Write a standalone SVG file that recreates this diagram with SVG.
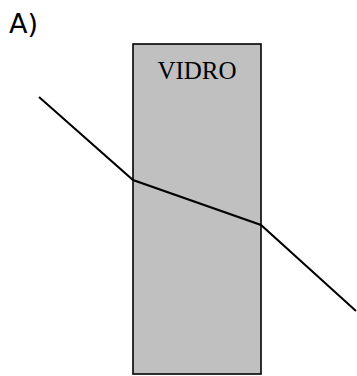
<svg xmlns="http://www.w3.org/2000/svg" width="357" height="376" viewBox="0 0 357 376">
<style>
.lbl{font-family:"DejaVu Sans","Liberation Sans",sans-serif;font-size:27px;fill:#000}
.glass{fill:#c0c0c0;stroke:#000;stroke-width:1.6}
.name{font-family:"Liberation Serif","Times New Roman",serif;font-size:25px;fill:#000}
.ray{fill:none;stroke:#000;stroke-width:2}
</style>
<rect width="357" height="376" fill="#fff"/>
<text class="lbl" x="9" y="33">A)</text>
<g id="vidro">
<rect class="glass" x="133" y="44" width="128" height="330"/>
<text class="name" x="197" y="79" text-anchor="middle">VIDRO</text>
</g>
<g id="connectors">
<polyline class="ray" points="39,97 133,180 261,225 356,311"/>
</g>
</svg>
